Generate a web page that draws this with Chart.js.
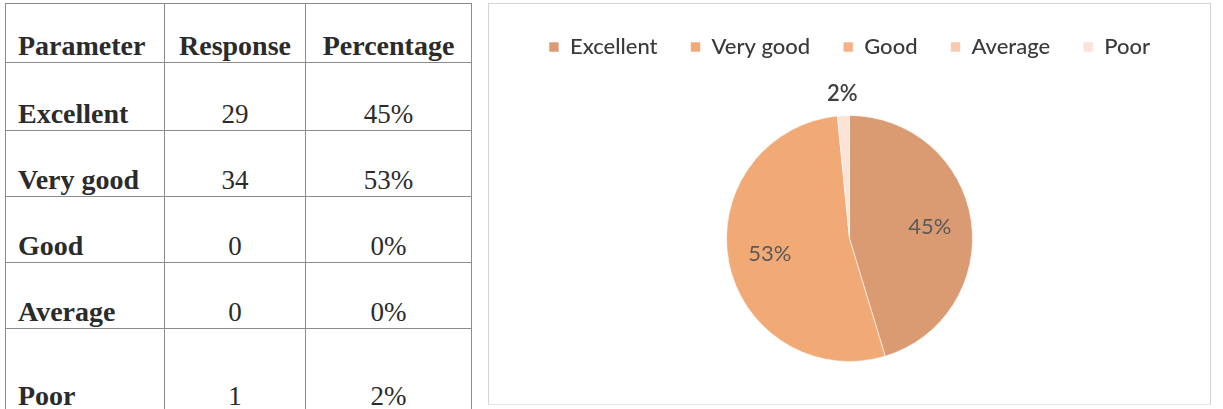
<!DOCTYPE html>
<html>
<head>
<meta charset="utf-8">
<script src="https://cdn.jsdelivr.net/npm/chart.js@4.4.1/dist/chart.umd.min.js"></script>
<style>
  html, body { margin: 0; padding: 0; background: #ffffff; width: 1223px; height: 409px; overflow: hidden; }
  #tbl { position: absolute; left: 5px; top: 3px; border-collapse: collapse; font-family: "Liberation Serif", "Times New Roman", serif; color: #2b2b2b; table-layout: fixed; }
  #tbl td { border: 1.5px solid #8c8c8c; vertical-align: bottom; padding: 0 0 2px 0; line-height: 28px; font-size: 27px; }
  #tbl td.p { font-weight: bold; font-size: 28px; text-align: left; padding-left: 12px; }
  #tbl td.c { text-align: center; }
  #tbl tr.h td { font-weight: bold; font-size: 28px; }
  #panel { position: absolute; left: 488px; top: 3px; width: 721px; height: 400px; border: 1.5px solid #d4d4d4; border-bottom-color: #e6e6e6; }
  #cv { position: absolute; left: 0; top: 0; }
</style>
</head>
<body>
<table id="tbl">
  <colgroup><col style="width:159px"><col style="width:141px"><col style="width:166px"></colgroup>
  <tbody id="tb"></tbody>
</table>
<div id="panel"><canvas id="cv" width="721" height="400"></canvas></div>
<script>
const headers = ["Parameter", "Response", "Percentage"];
const categories = ["Excellent", "Very good", "Good", "Average", "Poor"];
const responses = [29, 34, 0, 0, 1];
const percentLabels = ["45%", "53%", "0%", "0%", "2%"];
const sliceColors = ["#DA9A72", "#F1AA76", "#F4B183", "#F8CBAD", "#FBE3D8"];
const rowHeights = [59, 68, 66, 66, 66, 84];

// Build the table
const tb = document.getElementById("tb");
const hr = document.createElement("tr");
hr.className = "h";
hr.style.height = rowHeights[0] + "px";
headers.forEach((h, i) => {
  const td = document.createElement("td");
  td.textContent = h;
  td.className = i === 0 ? "p" : "c";
  hr.appendChild(td);
});
tb.appendChild(hr);
categories.forEach((cat, i) => {
  const tr = document.createElement("tr");
  tr.style.height = rowHeights[i + 1] + "px";
  [cat, String(responses[i]), percentLabels[i]].forEach((t, j) => {
    const td = document.createElement("td");
    td.textContent = t;
    td.className = j === 0 ? "p" : "c";
    tr.appendChild(td);
  });
  tb.appendChild(tr);
});

// Extra space under the legend
const legendSpace = {
  id: "legendSpace",
  beforeInit(chart) {
    const orig = chart.legend.fit;
    chart.legend.fit = function () {
      orig.call(this);
      this.height += 17;
    };
  }
};

// Label plugin: percentage labels on slices
const sliceLabels = {
  id: "sliceLabels",
  afterDatasetsDraw(chart) {
    const ctx = chart.ctx;
    const meta = chart.getDatasetMeta(0);
    ctx.save();
    ctx.textAlign = "center";
    ctx.textBaseline = "middle";
    meta.data.forEach((arc, i) => {
      const v = responses[i];
      if (!v) return;
      const p = arc.getProps(["x", "y", "startAngle", "endAngle", "outerRadius"], true);
      const mid = (p.startAngle + p.endAngle) / 2;
      const frac = (p.endAngle - p.startAngle) / (2 * Math.PI);
      const outside = frac < 0.05;
      const r = outside ? p.outerRadius + 22 : p.outerRadius * 0.66;
      ctx.font = (outside ? "600 " : "") + "22px Lato, 'Open Sans', sans-serif";
      ctx.fillStyle = outside ? "#404040" : "#5a5a5a";
      ctx.fillText(percentLabels[i], p.x + Math.cos(mid) * r, p.y + Math.sin(mid) * r);
    });
    ctx.restore();
  }
};

new Chart(document.getElementById("cv"), {
  type: "pie",
  data: {
    labels: categories,
    datasets: [{
      data: responses,
      backgroundColor: sliceColors,
      borderColor: "#ffffff",
      borderWidth: 0.6,
      radius: 123
    }]
  },
  options: {
    responsive: false,
    animation: false,
    layout: { padding: { top: -1, bottom: 12 } },
    plugins: {
      tooltip: { enabled: false },
      legend: {
        position: "top",
        labels: {
          boxWidth: 10,
          boxHeight: 10,
          padding: 33,
          color: "#3a3a3a",
          font: { family: "Lato, 'Open Sans', sans-serif", size: 22, weight: "500" }
        }
      }
    }
  },
  plugins: [legendSpace, sliceLabels]
});
</script>
</body>
</html>
